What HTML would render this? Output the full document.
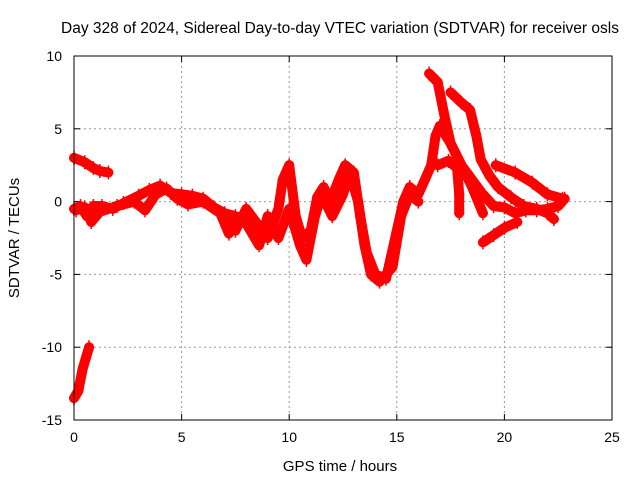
<!DOCTYPE html>
<html><head><meta charset="utf-8"><style>
body{margin:0;background:#fff}
svg{display:block;font-family:"Liberation Sans",sans-serif}
</style></head><body>
<svg id="chart" width="640" height="480" viewBox="0 0 640 480">
<rect width="640" height="480" fill="#fff"/>
<text x="340" y="33" font-size="15.5" text-anchor="middle">Day 328 of 2024, Sidereal Day-to-day VTEC variation (SDTVAR) for receiver osls</text>
<text x="340" y="471" font-size="15" text-anchor="middle">GPS time / hours</text>
<text transform="translate(19,238) rotate(-90)" font-size="15" text-anchor="middle">SDTVAR / TECUs</text>
<g id="grid"></g>
<g id="ticks"></g>
<g id="series"></g>
<rect x="74" y="56" width="538" height="364" fill="none" stroke="#000" stroke-width="1"/>
</svg>
<script>
const xTicks=[0,5,10,15,20,25];
const yTicks=[10,5,0,-5,-10,-15];
const trackA=[[0,3],[0.5,2.7],[0.9,2.3],[1.2,2.1],[1.6,2.0]];
const trackB=[[0,-13.5],[0.2,-13],[0.4,-11.5],[0.6,-10.5],[0.7,-10]];
const trackC=[[0,-0.5],[0.3,-0.3],[0.6,-1],[0.9,-0.3],[1.3,-0.3],[1.8,-0.5],[2.3,-0.1],[3,0.4],[3.5,0.8],[4,1.1],[4.5,0.6],[5,0.5],[5.5,0.4],[6,0.2],[6.5,-0.4],[7,-0.8],[7.5,-1],[8,-1.2]];
const trackC2=[[0.1,-0.6],[0.5,-0.4],[0.8,-1.4],[1.2,-0.7],[2,-0.3],[2.8,0],[3.3,-0.6],[3.8,0.5],[4.3,0.9],[4.8,0.2],[5.3,-0.2],[6,0],[6.8,-0.8],[7.2,-2.2]];
const trackD=[[7,-1],[7.5,-2],[8,-0.5],[8.5,-1.5],[9,-2.5],[9.5,-0.5],[9.7,1.5],[10,2.5],[10.3,-1],[10.6,-2.5],[11,-2],[11.3,0.3],[11.6,1],[11.9,0],[12.3,1.5],[12.6,2.5],[13,2],[13.3,-1],[13.6,-3.5],[14,-5],[14.5,-5.3],[15,-2],[15.3,0],[15.6,1],[16,0.5],[16.3,1.5],[16.6,2.5],[16.8,4.5],[17,5.2],[17.5,4],[18,2.5],[18.5,1.5],[19,0.5],[19.5,-0.3],[20,-0.4],[20.5,-0.8],[21,-0.6],[21.5,-0.6],[22,-0.5],[22.5,-0.3],[22.8,0.2]];
const trackE=[[8,-1.5],[8.6,-3],[9,-1],[9.5,-2.5],[10,-0.5],[10.5,-3],[10.8,-4],[11.2,-1],[11.5,0.5],[12,-1],[12.5,0.5],[12.8,2],[13.2,0],[13.5,-3],[13.8,-5],[14.2,-5.5],[14.8,-4.5],[15.2,-1],[15.6,0.5],[16,0]];
const trackF=[[16.5,8.8],[16.9,8.2],[17.2,6],[17.5,4],[18,2.5],[18.5,1],[19,-0.8]];
const trackG=[[17.5,7.5],[18,6.8],[18.4,6.3],[18.7,4.5],[18.9,2.9],[19.3,1.8],[19.7,1],[20.3,0.3],[20.9,-0.3],[21.5,-0.5],[22,-0.8],[22.3,-1.2]];
const trackH=[[19.6,2.5],[20.5,2],[21.3,1.3],[22,0.5],[22.7,0.2]];
const trackI=[[16.9,2.5],[17.4,2.8],[17.8,2.3],[17.9,0.5],[17.9,-0.8]];
const trackJ=[[19,-2.8],[19.5,-2.3],[20,-1.8],[20.6,-1.4]];
const tracks=[trackA,trackB,trackC,trackC2,trackD,trackE,trackF,trackG,trackH,trackI,trackJ];
const X0=74,X1=612,Y0=420,Y1=56,xMin=0,xMax=25,yMin=-15,yMax=10;
function sx(t){return X0+(t-xMin)/(xMax-xMin)*(X1-X0);}
function sy(v){return Y0-(v-yMin)/(yMax-yMin)*(Y0-Y1);}
const NS="http://www.w3.org/2000/svg";
function mk(tag,attrs,parent){const e=document.createElementNS(NS,tag);for(const k in attrs)e.setAttribute(k,attrs[k]);parent.appendChild(e);return e;}
const grid=document.getElementById('grid'),ticks=document.getElementById('ticks'),series=document.getElementById('series');
xTicks.forEach(t=>{
  const x=sx(t);
  if(t>xMin&&t<xMax){const g=mk('line',{x1:x,y1:Y1,x2:x,y2:Y0,stroke:'#999','stroke-dasharray':'2,3'},grid);
  
  }
  const tk=mk('line',{x1:x,y1:Y0,x2:x,y2:Y0-6,stroke:'#000'},ticks);
  
  
  const tk2=mk('line',{x1:x,y1:Y1,x2:x,y2:Y1+6,stroke:'#000'},ticks);
  
  
  const l=mk('text',{x:x,y:Y0+22,'font-size':14,'text-anchor':'middle'},ticks);l.textContent=t;
  
  
});
yTicks.forEach(v=>{
  const y=sy(v);
  if(v>yMin&&v<yMax){const g=mk('line',{x1:X0,y1:y,x2:X1,y2:y,stroke:'#999','stroke-dasharray':'2,3'},grid);
  
  }
  const tk=mk('line',{x1:X0,y1:y,x2:X0+6,y2:y,stroke:'#000'},ticks);
  
  
  const tk2=mk('line',{x1:X1,y1:y,x2:X1-6,y2:y,stroke:'#000'},ticks);
  
  
  const l=mk('text',{x:X0-12,y:y+5,'font-size':14,'text-anchor':'end'},ticks);l.textContent=v;
  
  
});
tracks.forEach(tr=>{
  const pts=tr.map(p=>sx(p[0]).toFixed(1)+','+sy(p[1]).toFixed(1)).join(' ');
  const pl=mk('polyline',{points:pts,fill:'none',stroke:'#f00','stroke-width':10,'stroke-linejoin':'round','stroke-linecap':'round'},series);
  
  
  tr.forEach(p=>{
    const x=sx(p[0]),y=sy(p[1]);
    const m=mk('path',{d:`M${x-5},${y}h10M${x},${y-7}v14`,stroke:'#f00','stroke-width':1.5},series);
    
    
  });
});
</script>
</body></html>
